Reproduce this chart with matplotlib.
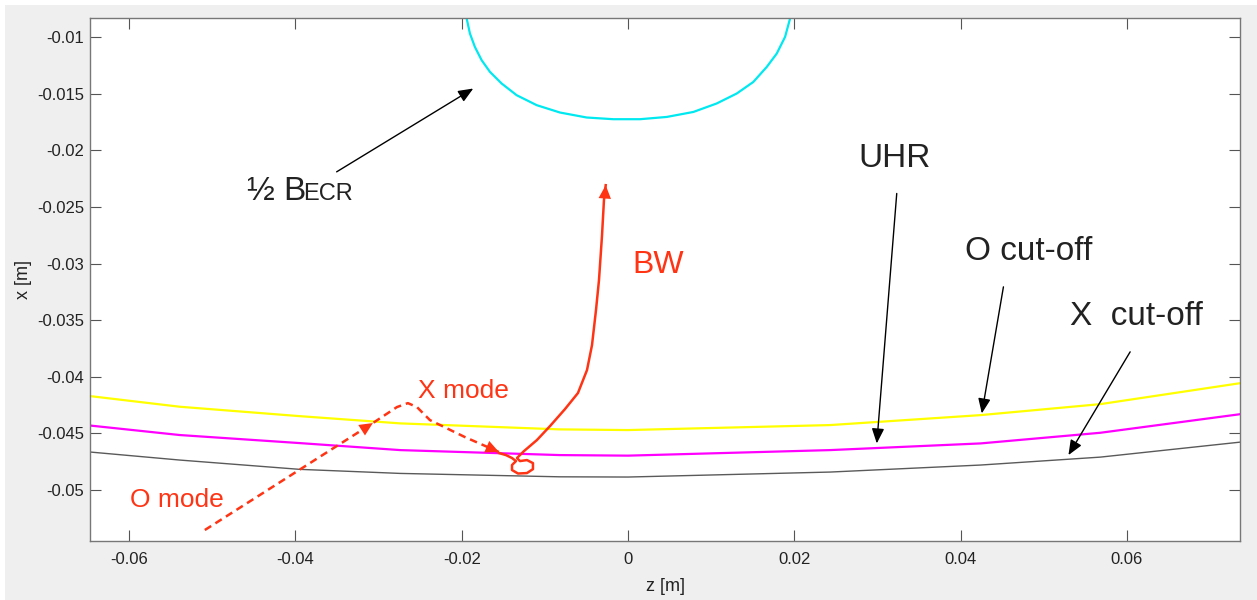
import matplotlib
matplotlib.use("Agg")
import matplotlib.pyplot as plt
from matplotlib.patches import Rectangle

plt.rcParams['font.family'] = ['Liberation Sans', 'DejaVu Sans']

# ---- data (z, x in metres) ----
z_cut = [-0.0647, -0.0539, -0.0395, -0.0274, -0.0082, 0.0, 0.0243, 0.0424, 0.0568, 0.0737]
x_ocut = [-0.04170, -0.04264, -0.04347, -0.04411, -0.04464, -0.04470, -0.04426, -0.04338, -0.04241, -0.04055]
x_uhr = [-0.04430, -0.04514, -0.04585, -0.04647, -0.04691, -0.04696, -0.04647, -0.04588, -0.04494, -0.04329]
x_xcut = [-0.04664, -0.04735, -0.04817, -0.04853, -0.04883, -0.04885, -0.04841, -0.04779, -0.04709, -0.04576]

z_ecr = [-0.01940, -0.01901, -0.01841, -0.01760, -0.01660, -0.01519, -0.01339, -0.01098, -0.00818,
         -0.00497, -0.00177, 0.00144, 0.00466, 0.00786, 0.01067, 0.01308, 0.01507, 0.01669,
         0.01789, 0.01889, 0.01949]
x_ecr = [-0.00835, -0.00967, -0.01086, -0.01203, -0.01306, -0.01409, -0.01512, -0.01600, -0.01665,
         -0.01709, -0.01724, -0.01724, -0.01704, -0.01660, -0.01585, -0.01497, -0.01395, -0.01262,
         -0.01144, -0.00997, -0.00835]

# incoming O mode -> X mode (dashed)
z_ox = [-0.05089, -0.03068, -0.02779, -0.02647, -0.02538, -0.02382, -0.01961, -0.01552]
x_ox = [-0.05353, -0.04408, -0.04267, -0.04232, -0.04267, -0.04382, -0.04532, -0.04664]

# Bernstein wave (solid), with the small loop at the UHR layer
z_bw = [-0.01552, -0.01468, -0.01395, -0.01347, -0.01395, -0.01395, -0.01323, -0.01215, -0.01143,
        -0.01143, -0.01215, -0.01299, -0.01335, -0.01251, -0.01095, -0.00938, -0.00758, -0.00602,
        -0.00493, -0.00433, -0.00385, -0.00349, -0.00313, -0.00289, -0.00268]
x_bw = [-0.04673, -0.04691, -0.04717, -0.04744, -0.04779, -0.04823, -0.04854, -0.04850, -0.04815,
        -0.04762, -0.04735, -0.04744, -0.04717, -0.04656, -0.04558, -0.04435, -0.04285, -0.04143,
        -0.03940, -0.03720, -0.03411, -0.03146, -0.02757, -0.02439, -0.02307]

red = '#ff3414'
ink = '#222222'

fig = plt.figure(figsize=(12.57, 6.0), dpi=100, facecolor='#efefef')
fig.patches.append(Rectangle((0, 0.992), 1, 0.008, transform=fig.transFigure,
                             facecolor='white', edgecolor='none', zorder=0))
fig.patches.append(Rectangle((0, 0), 0.004, 1, transform=fig.transFigure,
                             facecolor='white', edgecolor='none', zorder=0))

ax = fig.add_axes([90 / 1257, 59 / 600, 1150 / 1257, 523 / 600])
ax.set_facecolor('white')

ax.plot(z_cut, x_ocut, color='#ffff00', lw=1.6)
ax.plot(z_cut, x_uhr, color='#ff00ff', lw=1.6)
ax.plot(z_cut, x_xcut, color='#5a5a5a', lw=1.0)
ax.plot(z_ecr, x_ecr, color='#00e8f0', lw=1.6)

ax.plot(z_ox, x_ox, color=red, lw=1.8, ls=(0, (3, 2)))
ax.plot(z_bw, x_bw, color=red, lw=1.8, solid_joinstyle='round')

head = dict(arrowstyle='-|>,head_length=0.6,head_width=0.28', color=red, lw=0,
            mutation_scale=16, shrinkA=0, shrinkB=0)
# arrow heads along the red paths
ax.annotate("", xy=(z_ox[1], x_ox[1]), xytext=(z_ox[0], x_ox[0]), arrowprops=head)
ax.annotate("", xy=(z_ox[-1], x_ox[-1]), xytext=(z_ox[-2], x_ox[-2]), arrowprops=head)
ax.annotate("", xy=(z_bw[-1], x_bw[-1]), xytext=(z_bw[-4], x_bw[-4]), arrowprops=head)

# black labels with arrows
blk = dict(arrowstyle='-|>,head_length=0.6,head_width=0.25', color='black', lw=1.0,
           mutation_scale=15, shrinkA=0, shrinkB=0)
ax.annotate("", xy=(-0.01861, -0.01453), xytext=(-0.03504, -0.02189), arrowprops=blk)
ax.annotate("", xy=(0.02992, -0.04588), xytext=(0.03232, -0.02380), arrowprops=blk)
ax.annotate("", xy=(0.04255, -0.04323), xytext=(0.04515, -0.03205), arrowprops=blk)
ax.annotate("", xy=(0.05297, -0.04691), xytext=(0.06039, -0.03779), arrowprops=blk)

ax.text(-0.04583, -0.02439, "½ B", fontsize=24, va='baseline', ha='left', color=ink)
ax.text(-0.03910, -0.02439, "ECR", fontsize=17, va='baseline', ha='left', color=ink)
ax.text(0.02767, -0.02068, "UHR", fontsize=24, va='center', ha='left', color=ink)
ax.text(0.04054, -0.02890, "O cut-off", fontsize=24, va='center', ha='left', color=ink)
ax.text(0.05317, -0.03464, "X  cut-off", fontsize=24, va='center', ha='left', color=ink)

ax.text(0.00048, -0.03013, "BW", fontsize=23, va='center', ha='left', color=red)
ax.text(-0.02526, -0.04126, "X mode", fontsize=19, va='center', ha='left', color=red)
ax.text(-0.05991, -0.05088, "O mode", fontsize=19, va='center', ha='left', color=red)

ax.set_xlim(-0.0647, 0.0736)
ax.set_ylim(-0.0545, -0.0083)

xt = [-0.06, -0.04, -0.02, 0.0, 0.02, 0.04, 0.06]
ax.set_xticks(xt)
ax.set_xticklabels(['-0.06', '-0.04', '-0.02', '0', '0.02', '0.04', '0.06'])
yt = [-0.05, -0.045, -0.04, -0.035, -0.03, -0.025, -0.02, -0.015, -0.01]
ax.set_yticks(yt)
ax.set_yticklabels(['-0.05', '-0.045', '-0.04', '-0.035', '-0.03', '-0.025', '-0.02', '-0.015', '-0.01'])

ax.tick_params(direction='in', top=True, right=True, length=8, width=0.8,
               color='#555555', labelsize=12, labelcolor=ink)
ax.tick_params(axis='x', pad=8)
ax.tick_params(axis='y', pad=4)
for s in ax.spines.values():
    s.set_color('#777777')
    s.set_linewidth(1.0)

ax.set_xlabel("z [m]", fontsize=13, color=ink, labelpad=8)
ax.set_ylabel("x [m]", fontsize=13, color=ink, labelpad=4)

fig.savefig("out.png", dpi=100, facecolor=fig.get_facecolor())
